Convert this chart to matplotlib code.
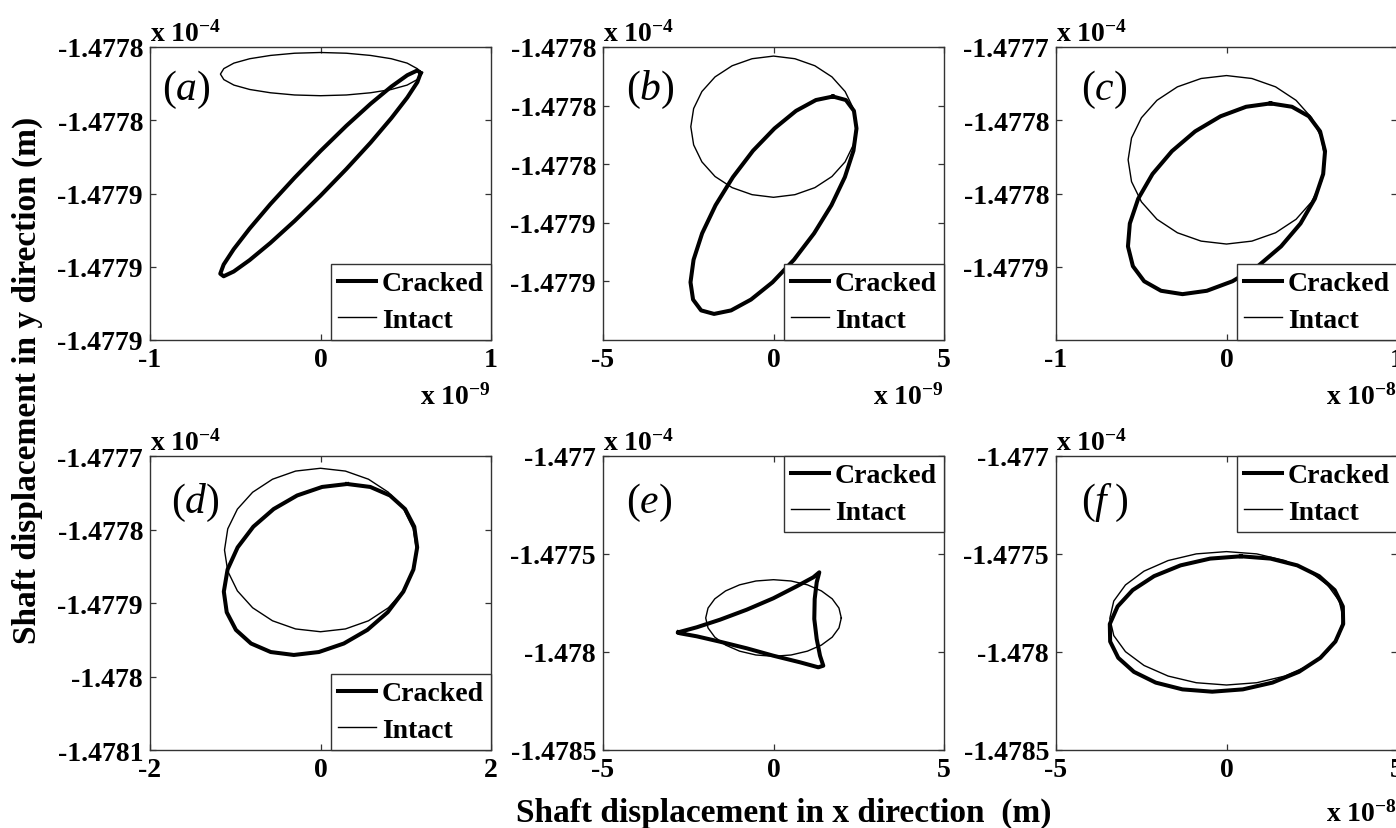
import numpy as np
import matplotlib
matplotlib.use('Agg')
import matplotlib.pyplot as plt

plt.rcParams['font.family'] = ['Liberation Serif', 'DejaVu Serif']
plt.rcParams['mathtext.fontset'] = 'custom'
plt.rcParams['mathtext.rm'] = 'Liberation Serif'
plt.rcParams['mathtext.it'] = 'Liberation Serif:italic'
plt.rcParams['mathtext.bf'] = 'Liberation Serif:bold'

# ---------------- data (x in units of the x multiplier, y in units of 1e-4 m) ----------------
a_crack_x = [0.588, 0.568, 0.509, 0.416, 0.294, 0.152, 0.0, -0.152, -0.294, -0.416, -0.509, -0.568,
             -0.588, -0.568, -0.509, -0.416, -0.294, -0.152, 0.0, 0.152, 0.294, 0.416, 0.509, 0.568]
a_crack_y = [-1.4778271, -1.4778296, -1.4778338, -1.4778394, -1.4778461, -1.4778533, -1.4778606, -1.4778675,
             -1.4778735, -1.4778782, -1.4778813, -1.4778826, -1.4778819, -1.4778794, -1.4778752, -1.4778696,
             -1.4778629, -1.4778557, -1.4778484, -1.4778415, -1.4778355, -1.4778308, -1.4778277, -1.4778264]
a_intact_x = [0.587, 0.567, 0.508, 0.415, 0.293, 0.152, 0.0, -0.152, -0.293, -0.415, -0.508, -0.567,
              -0.587, -0.567, -0.508, -0.415, -0.293, -0.152, 0.0, 0.152, 0.293, 0.415, 0.508, 0.567]
a_intact_y = [-1.4778274, -1.4778259, -1.4778244, -1.4778232, -1.4778223, -1.4778217, -1.4778215, -1.4778217,
              -1.4778223, -1.4778232, -1.4778244, -1.4778259, -1.4778274, -1.4778289, -1.4778304, -1.4778316,
              -1.4778325, -1.4778331, -1.4778333, -1.4778331, -1.4778325, -1.4778316, -1.4778304, -1.4778289]

b_crack_x = [1.743, 1.244, 0.660, 0.029, -0.601, -1.190, -1.699, -2.093, -2.344, -2.434, -2.359, -2.122,
             -1.743, -1.244, -0.660, -0.029, 0.601, 1.190, 1.699, 2.093, 2.344, 2.434, 2.359, 2.122]
b_crack_y = [-1.4778169, -1.4778181, -1.4778218, -1.4778278, -1.4778354, -1.4778444, -1.4778540, -1.4778636,
             -1.4778726, -1.4778803, -1.4778862, -1.4778899, -1.4778911, -1.4778899, -1.4778862, -1.4778803,
             -1.4778726, -1.4778636, -1.4778540, -1.4778444, -1.4778354, -1.4778278, -1.4778218, -1.4778181]
b_intact_x = [2.425, 2.342, 2.100, 1.714, 1.213, 0.628, 0.0, -0.628, -1.213, -1.714, -2.100, -2.342,
              -2.425, -2.342, -2.100, -1.714, -1.213, -0.628, 0.0, 0.628, 1.213, 1.714, 2.100, 2.342]
b_intact_y = [-1.4778272, -1.4778210, -1.4778152, -1.4778102, -1.4778064, -1.4778040, -1.4778031, -1.4778040,
              -1.4778064, -1.4778102, -1.4778152, -1.4778210, -1.4778272, -1.4778334, -1.4778392, -1.4778442,
              -1.4778480, -1.4778504, -1.4778513, -1.4778504, -1.4778480, -1.4778442, -1.4778392, -1.4778334]

c_crack_x = [0.258, 0.115, -0.035, -0.184, -0.320, -0.434, -0.518, -0.567, -0.578, -0.549, -0.483, -0.384,
             -0.258, -0.115, 0.035, 0.184, 0.320, 0.434, 0.518, 0.567, 0.578, 0.549, 0.483, 0.384]
c_crack_y = [-1.4777385, -1.4777408, -1.4777473, -1.4777576, -1.4777711, -1.4777867, -1.4778036, -1.4778205,
             -1.4778361, -1.4778496, -1.4778599, -1.4778664, -1.4778687, -1.4778664, -1.4778599, -1.4778496,
             -1.4778361, -1.4778205, -1.4778036, -1.4777867, -1.4777711, -1.4777576, -1.4777473, -1.4777408]
c_intact_x = [0.577, 0.557, 0.499, 0.408, 0.288, 0.149, 0.0, -0.149, -0.288, -0.408, -0.499, -0.557,
              -0.577, -0.557, -0.499, -0.408, -0.288, -0.149, 0.0, 0.149, 0.288, 0.408, 0.499, 0.557]
c_intact_y = [-1.4777770, -1.4777621, -1.4777483, -1.4777364, -1.4777272, -1.4777215, -1.4777195, -1.4777215,
              -1.4777272, -1.4777364, -1.4777483, -1.4777621, -1.4777770, -1.4777919, -1.4778057, -1.4778176,
              -1.4778268, -1.4778325, -1.4778345, -1.4778325, -1.4778268, -1.4778176, -1.4778057, -1.4777919]

d_crack_x = [0.313, 0.019, -0.274, -0.550, -0.788, -0.972, -1.090, -1.134, -1.100, -0.992, -0.815, -0.584,
             -0.313, -0.019, 0.274, 0.550, 0.788, 0.972, 1.090, 1.134, 1.100, 0.992, 0.815, 0.584]
d_crack_y = [-1.4777381, -1.4777421, -1.4777537, -1.4777722, -1.4777962, -1.4778243, -1.4778544, -1.4778845,
             -1.4779126, -1.4779366, -1.4779551, -1.4779667, -1.4779707, -1.4779667, -1.4779551, -1.4779366,
             -1.4779126, -1.4778845, -1.4778544, -1.4778243, -1.4777962, -1.4777722, -1.4777537, -1.4777421]
d_intact_x = [1.126, 1.088, 0.975, 0.796, 0.563, 0.292, 0.0, -0.292, -0.563, -0.796, -0.975, -1.088,
              -1.126, -1.088, -0.975, -0.796, -0.563, -0.292, 0.0, 0.292, 0.563, 0.796, 0.975, 1.088]
d_intact_y = [-1.4778279, -1.4777991, -1.4777723, -1.4777493, -1.4777316, -1.4777205, -1.4777167, -1.4777205,
              -1.4777316, -1.4777493, -1.4777723, -1.4777991, -1.4778279, -1.4778567, -1.4778835, -1.4779065,
              -1.4779242, -1.4779353, -1.4779391, -1.4779353, -1.4779242, -1.4779065, -1.4778835, -1.4778567]

e_crack_x = [-2.792, -2.252, -1.569, -0.786, -0.006, 0.680, 1.167, 1.343, 1.267, 1.208, 1.196, 1.267,
             1.364, 1.460, 1.314, 0.777, -0.006, -0.786, -1.569, -2.252, -2.742]
e_crack_y = [-1.4778995, -1.4778740, -1.4778352, -1.4777842, -1.4777260, -1.4776648, -1.4776189, -1.4775934,
             -1.4776444, -1.4777296, -1.4778316, -1.4779337, -1.4780189, -1.4780699, -1.4780781, -1.4780525,
             -1.4780189, -1.4779811, -1.4779474, -1.4779199, -1.4779046]
e_intact_x = [1.988, 1.920, 1.722, 1.406, 0.994, 0.515, 0.0, -0.515, -0.994, -1.406, -1.722, -1.920,
              -1.988, -1.920, -1.722, -1.406, -0.994, -0.515, 0.0, 0.515, 0.994, 1.406, 1.722, 1.920]
e_intact_y = [-1.4778265, -1.4777759, -1.4777288, -1.4776884, -1.4776573, -1.4776377, -1.4776311, -1.4776377,
              -1.4776573, -1.4776884, -1.4777288, -1.4777759, -1.4778265, -1.4778771, -1.4779242, -1.4779646,
              -1.4779957, -1.4780153, -1.4780219, -1.4780153, -1.4779957, -1.4779646, -1.4779242, -1.4778771]

f_crack_x = [0.420, -0.479, -1.347, -2.123, -2.753, -3.194, -3.422, -3.412, -3.174, -2.715, -2.075, -1.292,
             -0.420, 0.479, 1.347, 2.123, 2.753, 3.194, 3.422, 3.412, 3.174, 2.715, 2.075, 1.292]
f_crack_y = [-1.4775117, -1.4775235, -1.4775580, -1.4776129, -1.4776844, -1.4777677, -1.4778571, -1.4779465,
             -1.4780298, -1.4781013, -1.4781562, -1.4781907, -1.4782025, -1.4781907, -1.4781562, -1.4781013,
             -1.4780298, -1.4779465, -1.4778571, -1.4777677, -1.4776844, -1.4776129, -1.4775580, -1.4775235]
f_intact_x = [3.422, 3.306, 2.963, 2.419, 1.711, 0.886, 0.0, -0.886, -1.711, -2.419, -2.963, -3.306,
              -3.422, -3.306, -2.963, -2.419, -1.711, -0.886, 0.0, 0.886, 1.711, 2.419, 2.963, 3.306]
f_intact_y = [-1.4778281, -1.4777400, -1.4776579, -1.4775875, -1.4775334, -1.4774994, -1.4774878, -1.4774994,
              -1.4775334, -1.4775875, -1.4776579, -1.4777400, -1.4778281, -1.4779162, -1.4779983, -1.4780687,
              -1.4781228, -1.4781568, -1.4781684, -1.4781568, -1.4781228, -1.4780687, -1.4779983, -1.4779162]

panel_names = ['a', 'b', 'c', 'd', 'e', 'f']
series_labels = ['Cracked', 'Intact']

x_limits = {'a': (-1, 1), 'b': (-5, 5), 'c': (-1, 1), 'd': (-2, 2), 'e': (-5, 5), 'f': (-5, 5)}
x_ticks = {'a': [-1, 0, 1], 'b': [-5, 0, 5], 'c': [-1, 0, 1], 'd': [-2, 0, 2], 'e': [-5, 0, 5], 'f': [-5, 0, 5]}
x_ticklabels = {'a': ['-1', '0', '1'], 'b': ['-5', '0', '5'], 'c': ['-1', '0', '1'],
                'd': ['-2', '0', '2'], 'e': ['-5', '0', '5'], 'f': ['-5', '0', '5']}
x_exponent = {'a': '-9', 'b': '-9', 'c': '-8', 'd': None, 'e': None, 'f': '-8'}

y_limits = {'a': (-1.4779, -1.47782), 'b': (-1.4779, -1.4778), 'c': (-1.4779, -1.4777),
            'd': (-1.4781, -1.4777), 'e': (-1.4785, -1.477), 'f': (-1.4785, -1.477)}
y_ticks = {'a': [-1.4779, -1.47788, -1.47786, -1.47784, -1.47782],
           'b': [-1.47788, -1.47786, -1.47784, -1.47782, -1.4778],
           'c': [-1.47785, -1.4778, -1.47775, -1.4777],
           'd': [-1.4781, -1.478, -1.4779, -1.4778, -1.4777],
           'e': [-1.4785, -1.478, -1.4775, -1.477],
           'f': [-1.4785, -1.478, -1.4775, -1.477]}
y_ticklabels = {'a': ['-1.4779', '-1.4779', '-1.4779', '-1.4778', '-1.4778'],
                'b': ['-1.4779', '-1.4779', '-1.4778', '-1.4778', '-1.4778'],
                'c': ['-1.4779', '-1.4778', '-1.4778', '-1.4777'],
                'd': ['-1.4781', '-1.478', '-1.4779', '-1.4778', '-1.4777'],
                'e': ['-1.4785', '-1.478', '-1.4775', '-1.477'],
                'f': ['-1.4785', '-1.478', '-1.4775', '-1.477']}

curves = {
    'a': (a_crack_x, a_crack_y, a_intact_x, a_intact_y),
    'b': (b_crack_x, b_crack_y, b_intact_x, b_intact_y),
    'c': (c_crack_x, c_crack_y, c_intact_x, c_intact_y),
    'd': (d_crack_x, d_crack_y, d_intact_x, d_intact_y),
    'e': (e_crack_x, e_crack_y, e_intact_x, e_intact_y),
    'f': (f_crack_x, f_crack_y, f_intact_x, f_intact_y),
}

# ---------------- layout ----------------
W, H = 1396, 829
fig = plt.figure(figsize=(W / 100, H / 100), dpi=100)

col_left = [150, 603, 1056]
ax_w = 341
row_top = [48, 457]
row_h = [293, 294]

legend_loc = {'a': 'lower right', 'b': 'lower right', 'c': 'lower right',
              'd': 'lower right', 'e': 'upper right', 'f': 'upper right'}
label_text = {'a': r'$(a)$', 'b': r'$(b)$', 'c': r'$(c)$', 'd': r'$(d)$', 'e': r'$(e)$', 'f': r'$(f\;)$'}
label_pos = {'a': (0.036, 0.857), 'b': (0.068, 0.857), 'c': (0.074, 0.857),
             'd': (0.063, 0.845), 'e': (0.068, 0.842), 'f': (0.074, 0.842)}
spine_col = '#333333'

def closed(v):
    v = np.asarray(v, dtype=float)
    return np.r_[v, v[:1]]

for i, name in enumerate(panel_names):
    r, c = divmod(i, 3)
    left = col_left[c] / W
    bottom = 1 - (row_top[r] + row_h[r]) / H
    ax = fig.add_axes([left, bottom, ax_w / W, row_h[r] / H])
    cx, cy, ix, iy = curves[name]
    l1, = ax.plot(closed(cx), closed(cy), color='black', lw=2.9, solid_joinstyle='round')
    l2, = ax.plot(closed(ix), closed(iy), color='black', lw=1.0)
    ax.set_xlim(*x_limits[name])
    ax.set_ylim(*y_limits[name])
    ax.set_xticks(x_ticks[name])
    ax.set_xticklabels(x_ticklabels[name])
    ax.set_yticks(y_ticks[name])
    ax.set_yticklabels(y_ticklabels[name])
    ax.tick_params(direction='in', length=4, width=0.9, top=True, right=True,
                   labelsize=20, pad=5, colors=spine_col, labelcolor='black')
    for lab in ax.get_xticklabels() + ax.get_yticklabels():
        lab.set_fontweight('bold')
    for sp in ax.spines.values():
        sp.set_color(spine_col)
        sp.set_linewidth(1.0)
    leg = ax.legend([l1, l2], series_labels, loc=legend_loc[name], borderaxespad=0,
                    fancybox=False, framealpha=1, edgecolor=spine_col,
                    prop={'weight': 'bold', 'size': 20}, handlelength=1.35,
                    handletextpad=0.22, borderpad=0.25, labelspacing=0.4)
    leg.get_frame().set_linewidth(1.0)
    ax.text(label_pos[name][0], label_pos[name][1], label_text[name], transform=ax.transAxes,
            fontsize=30, ha='left', va='center')
    ax.annotate(r'$\mathbf{x\ 10^{-4}}$', xy=(0, 1), xycoords='axes fraction',
                xytext=(0, 4.3), textcoords='offset points', ha='left', va='baseline', fontsize=20)
    if x_exponent[name]:
        off = -46 if r == 0 else -51
        ax.annotate(r'$\mathbf{x\ 10^{%s}}$' % x_exponent[name], xy=(1, 0), xycoords='axes fraction',
                    xytext=(0, off), textcoords='offset points', ha='right', va='baseline', fontsize=20)

fig.text(27 / W, 1 - 380 / H, 'Shaft displacement in y direction (m)', rotation=90,
         ha='center', va='center', fontsize=24, fontweight='bold')
fig.text(783.5 / W, 1 - 822 / H, 'Shaft displacement in x direction  (m)',
         ha='center', va='baseline', fontsize=24, fontweight='bold')

fig.savefig('out.png', dpi=100, facecolor='white')
